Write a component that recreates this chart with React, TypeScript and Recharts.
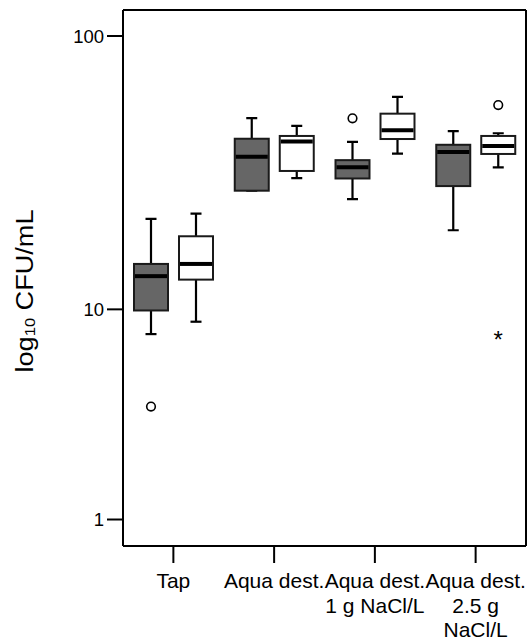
import React from 'react';
import { ComposedChart, Bar, XAxis, YAxis, Label, CartesianGrid } from 'recharts';

// Categories and their printed (multi-line) tick labels
const categories = ['Tap', 'Aqua dest.', 'Aqua dest. 1 g NaCl/L', 'Aqua dest. 2.5 g NaCl/L'];
const categoryLines = [['Tap'], ['Aqua dest.'], ['Aqua dest.', '1 g NaCl/L'], ['Aqua dest.', '2.5 g', 'NaCl/L']];

// Grey boxes (CFU/mL)
const greyLow = [8.0, 27.8, 25.9, 19.9];
const greyQ1 = [9.9, 27.8, 30.8, 28.9];
const greyMedian = [13.4, 36.9, 33.8, 38.4];
const greyQ3 = [14.9, 42.9, 35.9, 40.8];
const greyHigh = [21.9, 50.9, 41.8, 45.7];
const greyOutliers = [[4.0], [], [50.8], []];
const greyExtremes: number[][] = [[], [], [], []];

// White boxes (CFU/mL)
const whiteLow = [8.95, 30.9, 37.9, 33.8];
const whiteQ1 = [13.0, 32.8, 42.8, 37.8];
const whiteMedian = [14.9, 41.9, 46.0, 40.4];
const whiteQ3 = [18.9, 43.9, 52.8, 43.9];
const whiteHigh = [22.9, 47.7, 60.7, 44.9];
const whiteOutliers = [[], [], [], [56.7]];
const whiteExtremes = [[], [], [], [7.9]];

// axis ticks shown as 1, 10, 100
const yTickValues = [1, 10, 100];

const FONT = '"Liberation Sans", Arial, sans-serif';
const tr = (v: number) => Math.log10(v + 1);
const yDomain = [0.2077, 2.096];

const data = categories.map((name, i) => ({
  name,
  grey: [tr(greyLow[i]), tr(greyHigh[i])],
  white: [tr(whiteLow[i]), tr(whiteHigh[i])],
  greyStats: { q1: greyQ1[i], med: greyMedian[i], q3: greyQ3[i], low: greyLow[i], high: greyHigh[i], out: greyOutliers[i], ext: greyExtremes[i] },
  whiteStats: { q1: whiteQ1[i], med: whiteMedian[i], q3: whiteQ3[i], low: whiteLow[i], high: whiteHigh[i], out: whiteOutliers[i], ext: whiteExtremes[i] },
}));

function makeBox(statsKey: string, fill: string) {
  return (props: any) => {
    const { x, y, width, height, payload } = props;
    const s = payload[statsKey];
    const top = Math.min(y, y + height);
    const bottom = Math.max(y, y + height);
    const hi = tr(s.high);
    const lo = tr(s.low);
    // linear in transformed units, same as the y scale
    const py = (v: number) => top + ((hi - tr(v)) / (hi - lo)) * (bottom - top);
    const cx = x + width / 2;
    const capW = 11;
    return (
      <g>
        <line x1={cx} x2={cx} y1={py(s.high)} y2={py(s.q3)} stroke="#000" strokeWidth={2.2} />
        <line x1={cx} x2={cx} y1={py(s.q1)} y2={py(s.low)} stroke="#000" strokeWidth={2.2} />
        <line x1={cx - capW / 2} x2={cx + capW / 2} y1={py(s.high)} y2={py(s.high)} stroke="#000" strokeWidth={2.2} />
        <line x1={cx - capW / 2} x2={cx + capW / 2} y1={py(s.low)} y2={py(s.low)} stroke="#000" strokeWidth={2.2} />
        <rect x={x} y={py(s.q3)} width={width} height={py(s.q1) - py(s.q3)} fill={fill} stroke="#1a1a1a" strokeWidth={2} />
        <line x1={x + 1} x2={x + width - 1} y1={py(s.med)} y2={py(s.med)} stroke="#000" strokeWidth={4} />
        {s.out.map((v: number, k: number) => (
          <circle key={'o' + k} cx={cx} cy={py(v)} r={4.3} fill="#fff" stroke="#000" strokeWidth={1.6} />
        ))}
        {s.ext.map((v: number, k: number) => (
          <text key={'e' + k} x={cx} y={py(v) + 13} textAnchor="middle" fontSize={24} fontFamily={FONT} fill="#000">*</text>
        ))}
      </g>
    );
  };
}

function CategoryTick({ x, y, payload }: any) {
  const lines = categoryLines[payload.index] || [payload.value];
  return (
    <text x={x} y={y} textAnchor="middle" fontSize={21} fontFamily={FONT} fill="#000">
      {lines.map((l, i) => (
        <tspan key={i} x={x} dy={i === 0 ? 25 : 24.5}>{l}</tspan>
      ))}
    </text>
  );
}

function YTitle({ viewBox }: any) {
  const cx = viewBox.x + 25;
  const cy = viewBox.y + viewBox.height / 2 + 13;
  return (
    <text
      x={cx}
      y={cy}
      transform={`rotate(-90, ${cx}, ${cy})`}
      textAnchor="middle"
      dominantBaseline="central"
      fontSize={23}
      fontFamily={FONT}
      fill="#000"
      textLength={163}
      lengthAdjust="spacingAndGlyphs"
    >
      log<tspan fontSize={14} dy={5}>10</tspan>
      <tspan dy={-5}> CFU/mL</tspan>
    </text>
  );
}

export default function App() {
  const axisStroke = { stroke: '#000', strokeWidth: 2 };
  return (
    <div style={{ position: 'absolute', left: 0, top: 0, background: '#fff' }}>
      <ComposedChart width={528} height={640} data={data} margin={{ top: 10, right: 2, bottom: 0, left: 0 }} barSize={34} barGap={11}>
        {/* plot frame: lines on the four edges of the plot area */}
        <CartesianGrid
          stroke="#000"
          strokeWidth={2}
          horizontalCoordinatesGenerator={({ offset }: any) => [offset.top, offset.top + offset.height]}
          verticalCoordinatesGenerator={({ offset }: any) => [offset.left, offset.left + offset.width]}
        />
        <XAxis
          dataKey="name"
          height={94}
          interval={0}
          tickSize={17}
          tickMargin={0}
          tickLine={axisStroke}
          axisLine={axisStroke}
          tick={<CategoryTick />}
        />
        <YAxis
          type="number"
          width={123}
          domain={yDomain}
          allowDataOverflow
          ticks={yTickValues.map(tr)}
          tickFormatter={(t: number) => String(Math.round(Math.pow(10, t) - 1))}
          tickSize={16}
          tickMargin={3}
          tickLine={axisStroke}
          axisLine={axisStroke}
          tick={{ fontSize: 18.5, fontFamily: FONT, fill: '#000' }}
        >
          <Label content={<YTitle />} />
        </YAxis>
        <Bar dataKey="grey" shape={makeBox('greyStats', '#666666')} isAnimationActive={false} />
        <Bar dataKey="white" shape={makeBox('whiteStats', '#ffffff')} isAnimationActive={false} />
      </ComposedChart>
    </div>
  );
}
